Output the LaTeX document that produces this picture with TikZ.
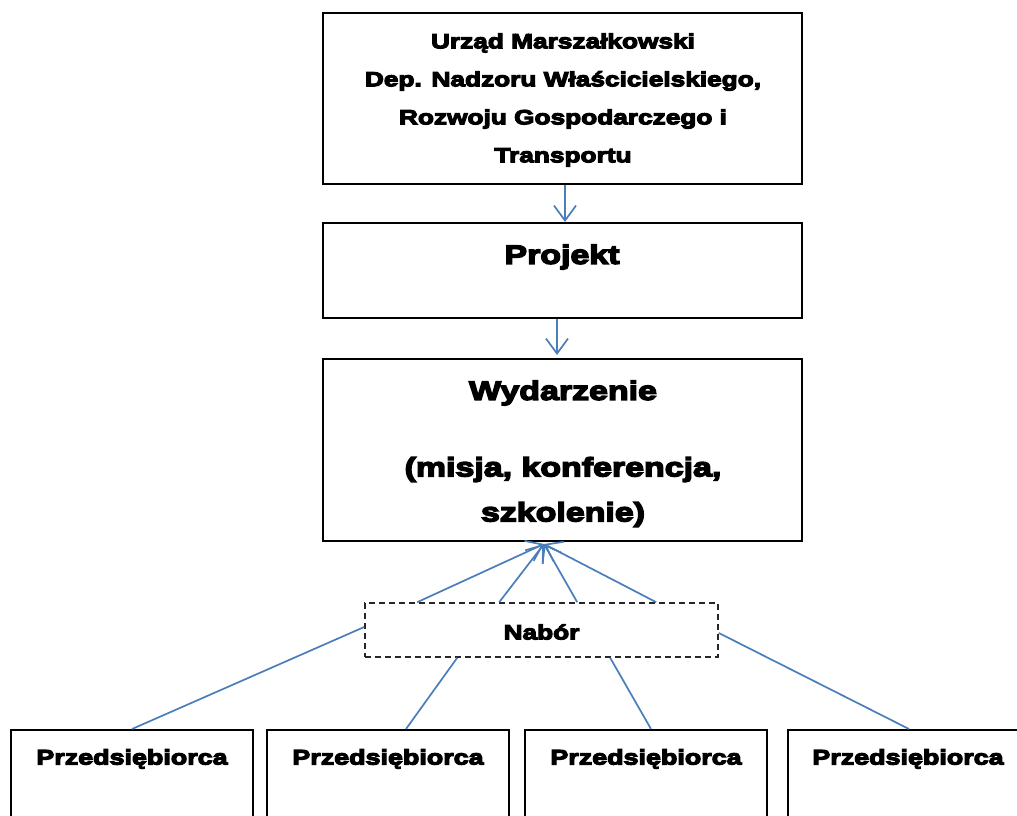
\documentclass[tikz,border=0pt]{standalone}
\usepackage{fontspec}
\setmainfont{Liberation Sans}[BoldFeatures={FakeBold=5.5,FakeStretch=1.28}]
\usetikzlibrary{arrows.meta,calc}
\definecolor{conn}{RGB}{74,126,187}
\tikzset{
  box/.style={draw=black,line width=2pt,inner sep=0pt},
  dbox/.style={draw=black!85,line width=1.6pt,dashed,dash pattern=on 6pt off 4pt,inner sep=0pt},
  txt/.style={font=\bfseries,align=center,inner sep=0pt},
  link/.style={draw=conn,line width=1.7pt},
  arr/.style={link,-{Straight Barb[length=15pt,width=22pt,line width=1.7pt]}},
}
\begin{document}
\begin{tikzpicture}[x=1pt,y=-1pt]
\useasboundingbox (0,0) rectangle (1017,816);
\begin{scope}
\clip (0,0) rectangle (1017,816);
% boxes
\node[box,minimum width=479pt,minimum height=171pt] (urz) at (562.5,98.5) {};
\node[box,minimum width=479pt,minimum height=95pt] (proj) at (562.5,270.5) {};
\node[box,minimum width=479pt,minimum height=182pt] (wyd) at (562.5,450) {};
\node[dbox,minimum width=353pt,minimum height=54pt] (nab) at (541.5,630) {};
\node[box,minimum width=242pt,minimum height=200pt,anchor=north] (pa) at (132,729) {};
\node[box,minimum width=242pt,minimum height=200pt,anchor=north] (pb) at (388,729) {};
\node[box,minimum width=242pt,minimum height=200pt,anchor=north] (pc) at (646,729) {};
\node[box,minimum width=242pt,minimum height=200pt,anchor=north] (pd) at (909,729) {};
% texts
\node[txt,font=\bfseries\fontsize{20.5}{38}\selectfont] (turz) at (563,100) {Urząd Marszałkowski\\Dep. Nadzoru Właścicielskiego,\\Rozwoju Gospodarczego i\\Transportu};
\node[txt,font=\bfseries\fontsize{26.5}{30}\selectfont] (tproj) at (562,257) {Projekt};
\node[txt,font=\bfseries\fontsize{26.5}{30}\selectfont] (twyd) at (563,393) {Wydarzenie};
\node[txt,font=\bfseries\fontsize{26.5}{45}\selectfont] (twyd2) at (563,492) {(misja, konferencja,\\szkolenie)};
\node[txt,font=\bfseries\fontsize{20.5}{24}\selectfont] (tnab) at (541.5,632) {Nabór};
\node[txt,font=\bfseries\fontsize{21}{24}\selectfont] (tpa) at (132,759) {Przedsiębiorca};
\node[txt,font=\bfseries\fontsize{21}{24}\selectfont] (tpb) at (388,759) {Przedsiębiorca};
\node[txt,font=\bfseries\fontsize{21}{24}\selectfont] (tpc) at (646,759) {Przedsiębiorca};
\node[txt,font=\bfseries\fontsize{21}{24}\selectfont] (tpd) at (908,759) {Przedsiębiorca};
% connectors
\draw[arr] ([xshift=2.5pt]urz.south) -- ([xshift=2.5pt]proj.north);
\draw[arr,shorten >=3pt] ([xshift=-5.5pt]proj.south) -- ([xshift=-5.5pt]wyd.north);
\coordinate (tip) at ([xshift=-18.5pt,yshift=-2pt]wyd.south);
\draw[arr] ([xshift=53pt]nab.north west) -- (tip);
\draw[arr] ([xshift=135pt]nab.north west) -- (tip);
\draw[arr] ([xshift=213pt]nab.north west) -- (tip);
\draw[arr] ([xshift=292pt]nab.north west) -- (tip);
\draw[link] ([yshift=3pt]nab.west) -- (pa.north);
\draw[link] ([xshift=93pt]nab.south west) -- ([xshift=18pt]pb.north);
\draw[link] ([xshift=246pt]nab.south west) -- ([xshift=5pt]pc.north);
\draw[link] ([yshift=-3pt]nab.east) -- (pd.north);
\end{scope}
\end{tikzpicture}
\end{document}
